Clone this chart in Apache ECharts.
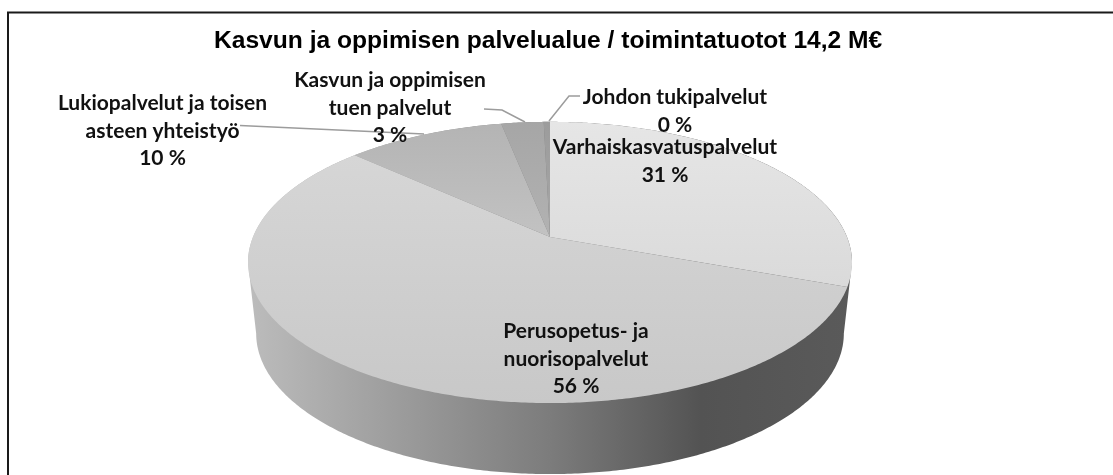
<!DOCTYPE html>
<html>
<head>
<meta charset="utf-8">
<style>
  html, body { margin: 0; padding: 0; background: #fff; }
  #chart { width: 1113px; height: 475px; }
</style>
<script src="https://cdn.jsdelivr.net/npm/echarts@6/dist/echarts.min.js"></script>
</head>
<body>
<div id="chart"></div>
<script>
const title = 'Kasvun ja oppimisen palvelualue / toimintatuotot 14,2 M€';
const categories = ['Varhaiskasvatuspalvelut', 'Perusopetus- ja\nnuorisopalvelut', 'Lukiopalvelut ja toisen\nasteen yhteistyö', 'Kasvun ja oppimisen\ntuen palvelut', 'Johdon tukipalvelut'];
const values = [30.6, 56.2, 10.1, 2.7, 0.4];

// label anchors (centre of the text block) and leader lines, one entry per slice
const labelCentres = [[665, 161], [576, 359], [162.5, 131], [390, 108], [675, 111]];
const leaderLines = [null, null, [[240, 125.5], [424, 134]], [[484, 109], [502, 110], [525, 122]], [[580, 96], [569, 96], [549, 121]]];

// shading of the top face per slice
const sliceColors = [['#e6e6e6', '#dadada'], ['#d6d6d6', '#c8c8c8'], ['#b4b4b4', '#c2c2c2'], ['#a6a6a6', '#b2b2b2'], ['#9c9c9c', '#a6a6a6']];

// perspective disc, fitted to the picture
const apex = [550, 237];
const radiusX = 297;
const radiusY = 136;
const depth = 0.181;
const wallDrop = 71;
const baseScale = 0.973;

// angle is clockwise from 12 o'clock
function project(angle, lower) {
    const x = Math.sin(angle);
    const z = Math.cos(angle);
    const s = 1 / (1 + depth * z);
    const k = lower ? baseScale : 1;
    return [
        apex[0] + radiusX * x * s * k,
        apex[1] + (lower ? wallDrop : 0) - radiusY * z * s
    ];
}

function arcPoints(from, to, lower) {
    const pts = [];
    const steps = Math.max(2, Math.ceil(Math.abs(to - from) / 0.01));
    for (let i = 0; i <= steps; i++) {
        pts.push(project(from + (to - from) * i / steps, lower));
    }
    return pts;
}

const total = values.reduce((a, b) => a + b, 0);

function sliceAngles(index) {
    let sum = 0;
    for (let i = 0; i < index; i++) sum += values[i];
    return [sum / total * Math.PI * 2, (sum + values[index]) / total * Math.PI * 2];
}

const labelFont = { fontFamily: 'Lato', fontWeight: 'bold', fontSize: 21, lineHeight: 27.5 };

const renderSlice = function (params) {
    const i = params.dataIndex;
    const [a0, a1] = sliceAngles(i);
    const stops = sliceColors[i];
    const children = [{
        type: 'polygon',
        shape: { points: [apex].concat(arcPoints(a0, a1, false)) },
        style: {
            fill: new echarts.graphic.LinearGradient(0, 0, 0, 1, [
                { offset: 0, color: stops[0] },
                { offset: 1, color: stops[1] }
            ])
        }
    }];
    if (leaderLines[i]) {
        children.push({
            type: 'polyline',
            z2: 5,
            shape: { points: leaderLines[i] },
            style: { fill: null, stroke: '#9c9c9c', lineWidth: 1.5 }
        });
    }
    children.push({
        type: 'text',
        z2: 10,
        x: labelCentres[i][0],
        y: labelCentres[i][1],
        style: Object.assign({
            text: categories[i] + '\n' + Math.round(values[i] / total * 100) + ' %',
            fill: '#111',
            align: 'center',
            verticalAlign: 'middle'
        }, labelFont)
    });
    return { type: 'group', children: children };
};

// side wall: silhouette between the top disc and the base
const renderWall = function () {
    const rightSide = Math.acos(-depth);
    const back = arcPoints(-rightSide, rightSide, false);
    const front = arcPoints(rightSide, Math.PI * 2 - rightSide, true);
    return {
        type: 'polygon',
        shape: { points: back.concat(front) },
        style: {
            fill: new echarts.graphic.LinearGradient(0, 0, 1, 0, [
                { offset: 0, color: '#bcbcbc' },
                { offset: 0.5, color: '#7c7c7c' },
                { offset: 0.75, color: '#535353' },
                { offset: 1, color: '#5a5a5a' }
            ])
        }
    };
};

const chart = echarts.init(document.getElementById('chart'), null, { renderer: 'canvas' });
chart.setOption({
    animation: false,
    backgroundColor: '#fff',
    title: {
        text: title,
        left: 209,
        top: 24,
        textStyle: { fontFamily: 'Liberation Sans', fontWeight: 'bold', fontSize: 24.6, color: '#000' }
    },
    graphic: [{
        type: 'polyline',
        silent: true,
        shape: { points: [[8, 475], [8, 12.5], [1113, 12.5]] },
        style: { fill: null, stroke: '#1a1a1a', lineWidth: 2 }
    }],
    series: [
        { type: 'custom', coordinateSystem: 'none', renderItem: renderWall, data: [0], silent: true, z: 1 },
        { type: 'custom', coordinateSystem: 'none', renderItem: renderSlice, data: values, silent: true, z: 2 }
    ]
});
</script>
</body>
</html>
